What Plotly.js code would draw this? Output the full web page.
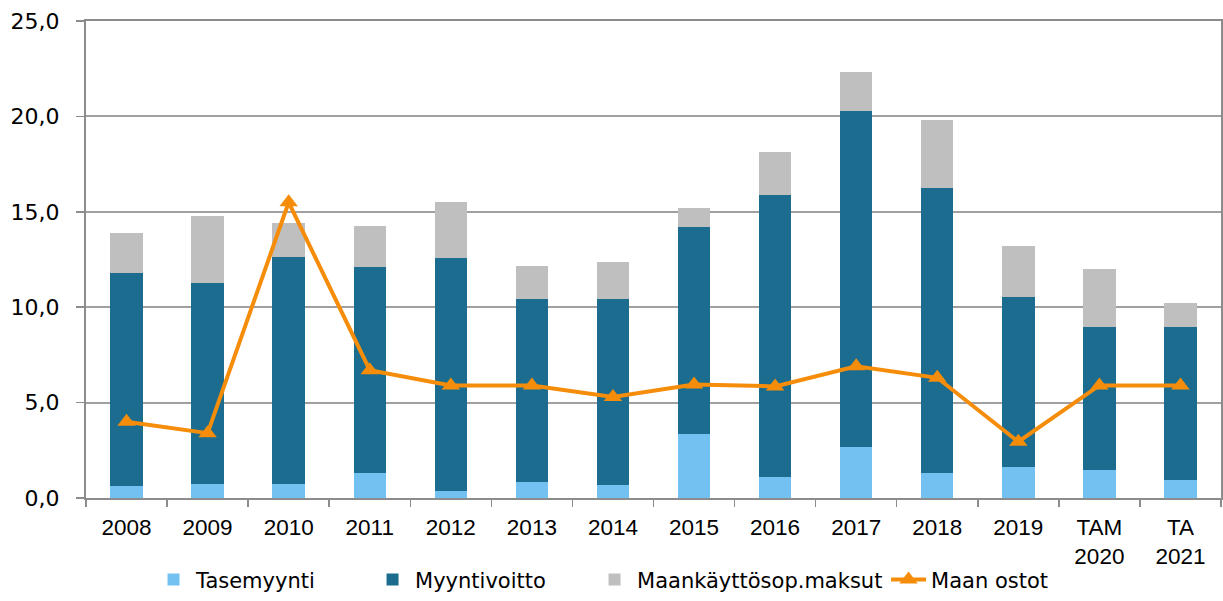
<!DOCTYPE html>
<html>
<head>
<meta charset="utf-8">
<script src="https://cdn.plot.ly/plotly-3.0.1.min.js"></script>
<style>
  html, body { margin: 0; padding: 0; background: #ffffff; }
  #chart { width: 1223px; height: 601px; }
</style>
</head>
<body>
<div id="chart"></div>
<script>
// Categories (x axis tick labels)
const categories = ["2008", "2009", "2010", "2011", "2012", "2013", "2014", "2015", "2016", "2017", "2018", "2019", "TAM<br>2020", "TA<br>2021"];

// Series values (milj. €)
const tasemyynti     = [0.63, 0.72, 0.75, 1.29, 0.38, 0.82, 0.70, 3.35, 1.10, 2.69, 1.29, 1.64, 1.45, 0.96];
const myyntivoitto   = [11.15, 10.53, 11.88, 10.80, 12.22, 9.61, 9.73, 10.84, 14.77, 17.59, 14.94, 8.91, 7.51, 8.00];
const maankayttosop  = [2.09, 3.53, 1.77, 2.18, 2.90, 1.75, 1.92, 0.99, 2.26, 2.06, 3.60, 2.64, 3.02, 1.28];
const maanOstot      = [4.0, 3.4, 15.5, 6.7, 5.9, 5.9, 5.3, 5.95, 5.85, 6.9, 6.3, 2.95, 5.9, 5.9];

// Y axis tick values/labels
const yTickVals = [0, 5, 10, 15, 20, 25];
const yTickText = ["0,0", "5,0", "10,0", "15,0", "20,0", "25,0"];

const legendFont = { family: "DejaVu Sans, Verdana, sans-serif", size: 21, color: "#000000" };

const traces = [
  { type: "bar", name: "Tasemyynti", x: categories, y: tasemyynti, legendwidth: 169,
    marker: { color: "#72C1F1", line: { width: 0 } } },
  { type: "bar", name: "Myyntivoitto", x: categories, y: myyntivoitto, legendwidth: 172,
    marker: { color: "#1B6C8E", line: { width: 0 } } },
  { type: "bar", name: "Maankäyttösop.maksut", x: categories, y: maankayttosop, legendwidth: 244,
    marker: { color: "#BFBFBF", line: { width: 0 } } },
  { type: "scatter", mode: "lines+markers", name: "Maan ostot", x: categories, y: maanOstot, legendwidth: 195,
    line: { color: "#F68D0A", width: 4 },
    marker: { symbol: "triangle-up", size: 16, color: "#F68D0A" } }
];

const layout = {
  width: 1223, height: 601,
  margin: { l: 86, r: 2, t: 21, b: 103 },
  paper_bgcolor: "#ffffff",
  plot_bgcolor: "#ffffff",
  barmode: "stack",
  bargap: 0.6,
  showlegend: true,
  legend: {
    orientation: "h", xref: "container", yref: "container",
    x: 0.1235, xanchor: "left", y: 0.035, yanchor: "middle",
    font: legendFont, traceorder: "normal", itemwidth: 35,
    bgcolor: "rgba(0,0,0,0)"
  },
  xaxis: {
    type: "category",
    range: [-0.5, categories.length - 0.5],
    tickfont: { family: "Liberation Sans, Arial, sans-serif", size: 22.5, color: "#000000" },
    showline: true, linecolor: "#8C8C8C", linewidth: 2, mirror: true,
    ticks: "outside", tickson: "boundaries", ticklen: 7, tickcolor: "#8C8C8C", tickwidth: 1.5,
    ticklabelstandoff: 8,
    showgrid: false, automargin: false
  },
  yaxis: {
    range: [0, 25],
    tickvals: yTickVals, ticktext: yTickText,
    tickfont: { family: "DejaVu Sans, Verdana, sans-serif", size: 22, color: "#000000" },
    showline: true, linecolor: "#8C8C8C", linewidth: 2, mirror: true,
    ticks: "outside", ticklen: 8, tickcolor: "#8C8C8C", tickwidth: 1.5,
    ticklabelstandoff: 12,
    showgrid: true, gridcolor: "#A0A0A0", gridwidth: 2,
    zeroline: false, automargin: false
  }
};

Plotly.newPlot("chart", traces, layout, { displayModeBar: false, staticPlot: true });
</script>
</body>
</html>
